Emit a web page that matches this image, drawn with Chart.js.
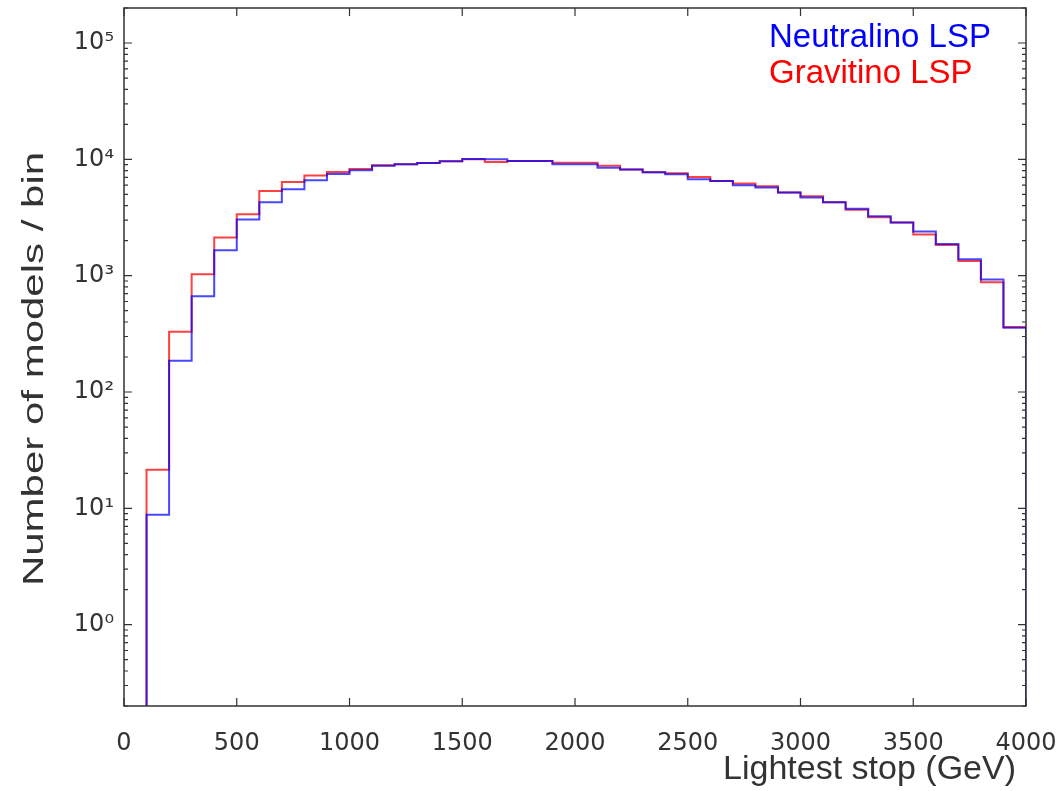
<!DOCTYPE html>
<html>
<head>
<meta charset="utf-8">
<script src="https://cdn.jsdelivr.net/npm/chart.js@4.4.1/dist/chart.umd.min.js"></script>
<style>
  html, body { margin: 0; padding: 0; background: #fff; }
  #wrap { width: 1059px; height: 791px; position: relative; }
</style>
</head>
<body>
<div id="wrap"><canvas id="chart"></canvas></div>
<script>
// Histogram bin edges (GeV) - 39 bins of 100 GeV
const binEdges = [100, 200, 300, 400, 500, 600, 700, 800, 900, 1000,
    1100, 1200, 1300, 1400, 1500, 1600, 1700, 1800, 1900, 2000,
    2100, 2200, 2300, 2400, 2500, 2600, 2700, 2800, 2900, 3000,
    3100, 3200, 3300, 3400, 3500, 3600, 3700, 3800, 3900, 4000];

// Counts per bin
const neutralino = [8.8, 186, 667, 1655, 3040, 4280, 5530, 6600, 7480, 8050,
    8800, 9060, 9290, 9610, 10050, 10000, 9680, 9700, 9060, 9060,
    8460, 8200, 7730, 7450, 6730, 6520, 5980, 5720, 5180, 4690,
    4280, 3770, 3240, 2860, 2395, 1875, 1386, 927, 356];
const gravitino = [21.5, 330, 1030, 2130, 3370, 5350, 6380, 7250, 7800, 8260,
    8880, 9060, 9290, 9610, 10000, 9500, 9700, 9700, 9340, 9340,
    8790, 8200, 7730, 7590, 7060, 6520, 6190, 5860, 5180, 4810,
    4280, 3690, 3180, 2860, 2255, 1840, 1340, 880, 363];

const seriesNames = ['Neutralino LSP', 'Gravitino LSP'];
const seriesColors = ['rgba(0, 0, 255, 0.72)', 'rgba(255, 0, 0, 0.75)'];
const legendColors = ['#0000ff', '#ff0000'];

const xTickValues = [0, 500, 1000, 1500, 2000, 2500, 3000, 3500, 4000];
const yTickValues = [1, 10, 100, 1000, 10000, 100000];
const yTickLabels = ['10\u2070', '10\u00b9', '10\u00b2', '10\u00b3', '10\u2074', '10\u2075'];

const xTitle = 'Lightest stop (GeV)';
const yTitle = 'Number of models / bin';

// step outline like matplotlib histtype='step' (drops to 0 at both ends)
function stepPoints(counts) {
    const last = binEdges[binEdges.length - 1];
    const pts = [{ x: binEdges[0], y: 1e-3 }];
    counts.forEach((c, i) => pts.push({ x: binEdges[i], y: c }));
    pts.push({ x: last, y: counts[counts.length - 1] });
    pts.push({ x: last, y: 1e-3 });
    return pts;
}

// box, inward ticks, axis titles and text legend
const framePlugin = {
    id: 'frame',
    afterDraw(chart) {
        const ctx = chart.ctx;
        const a = chart.chartArea;
        const xs = chart.scales.x;
        const ys = chart.scales.y;
        ctx.save();
        ctx.strokeStyle = '#333';
        ctx.lineWidth = 1.5;
        ctx.strokeRect(a.left, a.top, a.right - a.left, a.bottom - a.top);

        ctx.lineWidth = 1.2;
        ctx.beginPath();
        xTickValues.forEach(v => {
            const px = xs.getPixelForValue(v);
            ctx.moveTo(px, a.bottom); ctx.lineTo(px, a.bottom - 8);
            ctx.moveTo(px, a.top); ctx.lineTo(px, a.top + 8);
        });
        for (let e = -1; e <= 5; e++) {
            for (let m = 1; m <= 9; m++) {
                const v = m * Math.pow(10, e);
                if (v < ys.min || v > ys.max) continue;
                const py = ys.getPixelForValue(v);
                const len = m === 1 ? 8 : 4;
                ctx.moveTo(a.left, py); ctx.lineTo(a.left + len, py);
                ctx.moveTo(a.right, py); ctx.lineTo(a.right - len, py);
            }
        }
        ctx.stroke();

        ctx.fillStyle = '#333';
        ctx.font = '34px "Liberation Sans", Arial, sans-serif';
        ctx.textAlign = 'right';
        ctx.textBaseline = 'alphabetic';
        ctx.fillText(xTitle, a.right - 10, 779);

        ctx.save();
        ctx.translate(43, (a.top + a.bottom) / 2 + 12);
        ctx.rotate(-Math.PI / 2);
        ctx.scale(1.4, 1);
        ctx.font = '30px "Liberation Sans", Arial, sans-serif';
        ctx.textAlign = 'center';
        ctx.fillText(yTitle, 0, 0);
        ctx.restore();

        ctx.font = '33px "Liberation Sans", Arial, sans-serif';
        ctx.textAlign = 'left';
        seriesNames.forEach((name, i) => {
            ctx.fillStyle = legendColors[i];
            ctx.fillText(name, 769, 47 + i * 36);
        });
        ctx.restore();
    }
};

const ctx = document.getElementById('chart').getContext('2d');
new Chart(ctx, {
    type: 'line',
    data: {
        datasets: [
            { label: seriesNames[0], data: stepPoints(neutralino), borderColor: seriesColors[0] },
            { label: seriesNames[1], data: stepPoints(gravitino), borderColor: seriesColors[1] }
        ]
    },
    options: {
        responsive: true,
        maintainAspectRatio: false,
        animation: false,
        layout: { padding: { top: 8, right: 33, left: 0, bottom: 0 } },
        elements: {
            point: { radius: 0 },
            line: { borderWidth: 2, stepped: 'before', tension: 0, fill: false }
        },
        plugins: {
            legend: { display: false },
            tooltip: { enabled: false }
        },
        scales: {
            x: {
                type: 'linear',
                min: 0,
                max: 4000,
                grid: { display: false, drawTicks: false },
                border: { display: false },
                ticks: {
                    stepSize: 500,
                    padding: 23,
                    color: '#333',
                    font: { family: '"DejaVu Sans"', size: 24 },
                    maxRotation: 0,
                    callback: v => String(v)
                },
                afterFit: s => { s.height = 85; s.paddingLeft = 0; s.paddingRight = 0; }
            },
            y: {
                type: 'logarithmic',
                min: 0.2,
                max: 200000,
                grid: { display: false, drawTicks: false },
                border: { display: false },
                afterBuildTicks: s => { s.ticks = yTickValues.map(v => ({ value: v })); },
                ticks: {
                    padding: 10,
                    color: '#333',
                    font: { family: '"DejaVu Sans"', size: 24 },
                    callback: v => yTickLabels[yTickValues.indexOf(v)]
                },
                afterFit: s => { s.width = 124; s.paddingTop = 0; s.paddingBottom = 0; }
            }
        }
    },
    plugins: [framePlugin]
});
</script>
</body>
</html>
